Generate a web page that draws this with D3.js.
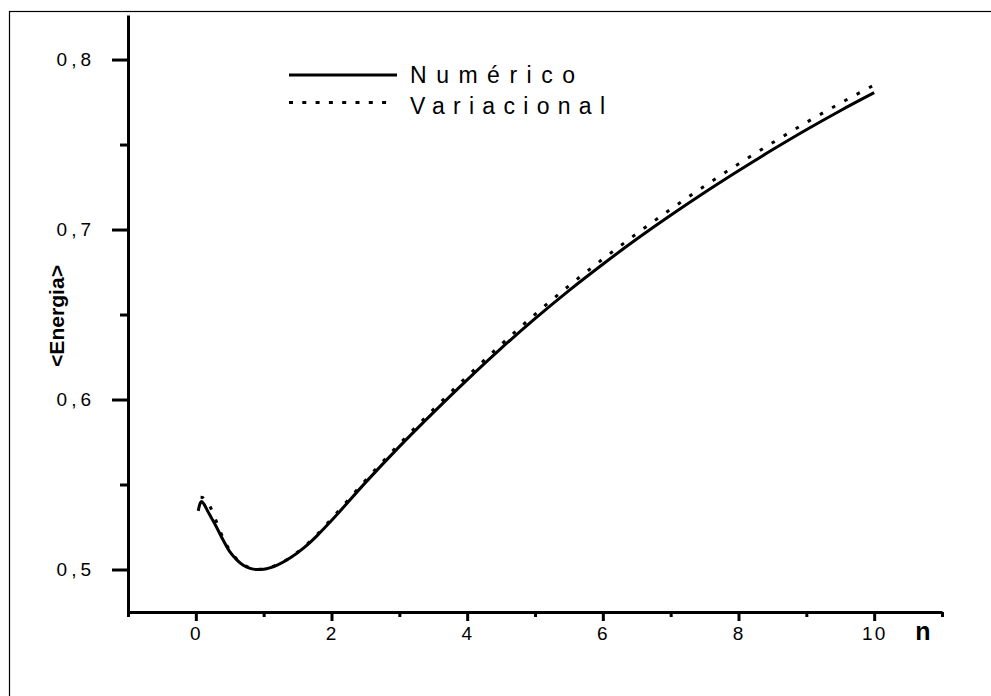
<!DOCTYPE html>
<html>
<head>
<meta charset="utf-8">
<script src="https://cdn.jsdelivr.net/npm/d3@7"></script>
<style>
  html, body { margin: 0; padding: 0; background: #fff; }
  svg { display: block; }
  text { font-family: "Liberation Sans", Arial, sans-serif; fill: #000; }
</style>
</head>
<body>
<script>
// ---- data ----
const numericN = [0.035, 0.06, 0.085, 0.12, 0.16, 0.2, 0.25, 0.3, 0.4, 0.5, 0.6, 0.7, 0.8, 0.9, 1.0, 1.2, 1.4, 1.6, 1.8, 2.0, 2.5, 3.0, 3.5, 4.0, 4.5, 5.0, 5.5, 6.0, 6.5, 7.0, 7.5, 8.0, 8.5, 9.0, 9.5, 10.0];
const numericE = [0.5345, 0.5385, 0.5400, 0.5385, 0.5355, 0.5325, 0.5290, 0.5253, 0.5175, 0.5105, 0.5058, 0.5025, 0.5007, 0.5000, 0.5002, 0.5026, 0.5070, 0.5130, 0.5204, 0.5288, 0.5511, 0.5723, 0.5923, 0.6116, 0.6301, 0.6476, 0.6641, 0.6796, 0.6944, 0.7084, 0.7218, 0.7346, 0.7469, 0.7587, 0.7699, 0.7805];
const variationalN = [0.07, 0.1, 0.12, 0.16, 0.2, 0.25, 0.3, 0.4, 0.5, 0.6, 0.7, 0.8, 0.9, 1.0, 1.2, 1.4, 1.6, 1.8, 2.0, 2.5, 3.0, 3.5, 4.0, 4.5, 5.0, 5.5, 6.0, 6.5, 7.0, 7.5, 8.0, 8.5, 9.0, 9.5, 10.0];
const variationalE = [0.5425, 0.5424, 0.5417, 0.5400, 0.5378, 0.5335, 0.5285, 0.5187, 0.5113, 0.5063, 0.5029, 0.5009, 0.5001, 0.5003, 0.5028, 0.5073, 0.5135, 0.5211, 0.5298, 0.5524, 0.5738, 0.5941, 0.6136, 0.6323, 0.6501, 0.6669, 0.6826, 0.6976, 0.7119, 0.7256, 0.7386, 0.7510, 0.7630, 0.7743, 0.7850];
const xMajorTicks = [0, 2, 4, 6, 8, 10];
const xMinorTicks = [-1, 1, 3, 5, 7, 9, 11];
const yMajorTicks = [0.5, 0.6, 0.7, 0.8];
const yMinorTicks = [0.55, 0.65, 0.75];
const yTickLabels = ["0,5", "0,6", "0,7", "0,8"];
const seriesNames = ["Numérico", "Variacional"];
const xTitle = "n";
const yTitle = "<Energia>";

// ---- drawing ----
const W = 991, H = 696;
const svg = d3.select("body").append("svg").attr("width", W).attr("height", H);

// outer frame (left & top visible)
svg.append("rect").attr("x", 9.5).attr("y", 11.5).attr("width", 1100).attr("height", 800)
  .attr("fill", "none").attr("stroke", "#000").attr("stroke-width", 1.2);

const x = d3.scaleLinear().domain([-1, 11]).range([128, 942]);
const y = d3.scaleLinear().domain([0.475, 0.8262]).range([612, 15]);

// X axis
const xAxisMajor = d3.axisBottom(x).tickValues(xMajorTicks).tickSize(9).tickSizeOuter(0)
  .tickFormat(d3.format("d")).tickPadding(5);
const gx = svg.append("g").attr("transform", `translate(0,${y(0.475)})`).call(xAxisMajor);
gx.select(".domain").attr("stroke-width", 3).attr("stroke", "#000");
gx.selectAll(".tick line").attr("stroke-width", 3);
gx.selectAll(".tick text").attr("font-size", 19).attr("font-family", "Liberation Sans, Arial, sans-serif")
  .attr("letter-spacing", 2).attr("dy", "0.72em");
const gxm = svg.append("g").attr("transform", `translate(0,${y(0.475)})`)
  .call(d3.axisBottom(x).tickValues(xMinorTicks).tickSize(5).tickSizeOuter(0).tickFormat(""));
gxm.select(".domain").remove();
gxm.selectAll(".tick line").attr("stroke-width", 3);

// Y axis
const yAxisMajor = d3.axisLeft(y).tickValues(yMajorTicks).tickSize(16).tickSizeOuter(0)
  .tickFormat((d, i) => yTickLabels[i]).tickPadding(17);
const gy = svg.append("g").attr("transform", `translate(${x(-1)},0)`).call(yAxisMajor);
gy.select(".domain").attr("stroke-width", 3).attr("stroke", "#000");
gy.selectAll(".tick line").attr("stroke-width", 3);
gy.selectAll(".tick text").attr("font-size", 19).attr("font-family", "Liberation Sans, Arial, sans-serif")
  .attr("letter-spacing", 4);
const gym = svg.append("g").attr("transform", `translate(${x(-1)},0)`)
  .call(d3.axisLeft(y).tickValues(yMinorTicks).tickSize(8).tickSizeOuter(0).tickFormat(""));
gym.select(".domain").remove();
gym.selectAll(".tick line").attr("stroke-width", 3);

// titles
svg.append("text").attr("x", 923).attr("y", 640).attr("text-anchor", "middle")
  .attr("font-size", 25).attr("font-weight", "bold").text(xTitle);
svg.append("text").attr("transform", "translate(64,316) rotate(-90)").attr("text-anchor", "middle")
  .attr("font-size", 21).attr("font-weight", "bold")
  .attr("textLength", 102).attr("lengthAdjust", "spacingAndGlyphs").text(yTitle);

// curves
const line = d3.line().x(d => x(d[0])).y(d => y(d[1])).curve(d3.curveMonotoneX);
const numData = numericN.map((n, i) => [n, numericE[i]]);
const varData = variationalN.map((n, i) => [n, variationalE[i]]);

svg.append("path").datum(varData).attr("d", line).attr("fill", "none").attr("stroke", "#000")
  .attr("stroke-width", 3).attr("stroke-dasharray", "3.5,10.5");
svg.append("path").datum(numData).attr("d", line).attr("fill", "none").attr("stroke", "#000")
  .attr("stroke-width", 3).attr("stroke-linejoin", "round");

// legend
const legend = svg.append("g");
legend.append("line").attr("x1", 289).attr("x2", 397).attr("y1", 75).attr("y2", 75)
  .attr("stroke", "#000").attr("stroke-width", 3);
legend.append("line").attr("x1", 289).attr("x2", 390).attr("y1", 102.5).attr("y2", 102.5)
  .attr("stroke", "#000").attr("stroke-width", 3).attr("stroke-dasharray", "4,9.3");
legend.append("text").attr("x", 410).attr("y", 83).attr("font-size", 23)
  .attr("textLength", 165).attr("lengthAdjust", "spacing").text(seriesNames[0]);
legend.append("text").attr("x", 410).attr("y", 114).attr("font-size", 23)
  .attr("textLength", 195).attr("lengthAdjust", "spacing").text(seriesNames[1]);
</script>
</body>
</html>
